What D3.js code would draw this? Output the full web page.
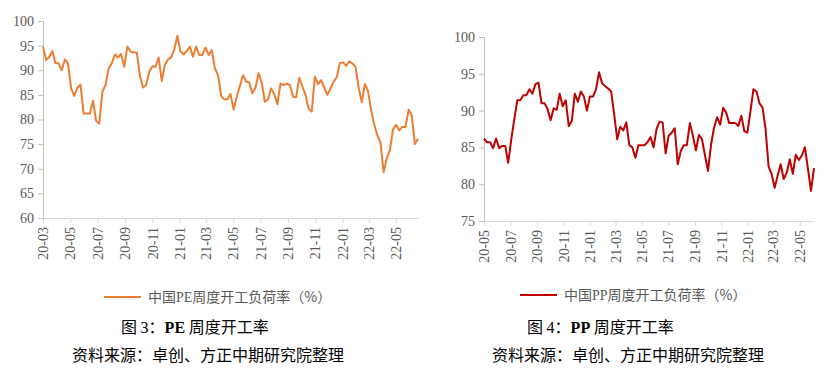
<!DOCTYPE html>
<html><head><meta charset="utf-8">
<script src="https://cdn.jsdelivr.net/npm/d3@7"></script>
<style>
html,body{margin:0;padding:0;background:#fff;}
svg{display:block;}
</style></head>
<body>
<svg id="c" width="826" height="371"></svg>
<script>
// ---------- DATA ----------
const peStart = "2020-03-01";   // first weekly observation
const peValues = [
94.8, 92.1, 92.7, 93.9, 91.4, 91.4, 90.0, 92.2, 91.4, 86.3,
84.8, 86.4, 87.1, 81.2, 81.2, 81.2, 83.8, 79.7, 79.2, 85.6,
87.0, 90.4, 91.4, 93.2, 92.6, 93.3, 90.7, 94.8, 93.8, 93.6,
93.6, 89.0, 86.5, 87.0, 89.7, 90.8, 90.7, 92.6, 87.8, 91.1,
92.2, 92.6, 94.2, 97.0, 93.8, 93.2, 93.9, 94.8, 92.8, 94.8,
93.1, 93.1, 94.6, 93.1, 94.1, 90.4, 89.0, 84.8, 84.1, 84.1,
85.2, 82.0, 84.6, 86.8, 89.0, 87.7, 87.5, 85.3, 86.5, 89.4,
87.5, 83.6, 84.1, 86.3, 85.2, 83.1, 87.3, 87.0, 87.3, 87.0,
84.6, 84.5, 88.5, 86.7, 85.0, 82.2, 81.6, 88.7, 87.2, 88.0,
86.5, 85.0, 86.3, 87.7, 88.6, 91.5, 91.6, 90.9, 91.8, 91.4,
90.7, 86.5, 83.5, 87.2, 85.8, 81.9, 78.9, 76.8, 75.3, 69.3,
72.1, 73.8, 78.0, 78.9, 77.8, 78.5, 78.5, 82.0, 80.9, 75.0,
76.1];
const peTickLabels = ["20-03","20-05","20-07","20-09","20-11","21-01","21-03","21-05","21-07","21-09","21-11","22-01","22-03","22-05"];
const peYTicks = [60,65,70,75,80,85,90,95,100];

const ppStart = "2020-05-01";
const ppValues = [
86.2, 85.7, 85.7, 84.9, 86.2, 84.9, 85.2, 85.2, 82.9, 86.1,
88.8, 91.4, 91.4, 92.1, 92.1, 92.9, 92.3, 93.6, 93.8, 91.0,
91.0, 90.2, 88.7, 90.3, 90.1, 92.3, 90.6, 91.4, 87.9, 88.6,
92.3, 91.2, 92.6, 91.9, 90.0, 91.9, 91.9, 92.9, 95.2, 93.7,
93.3, 93.0, 92.6, 89.5, 86.1, 87.8, 87.3, 88.4, 85.3, 85.0,
83.6, 85.3, 85.3, 85.3, 85.7, 86.4, 85.0, 87.5, 88.5, 88.4,
84.2, 86.6, 87.0, 87.6, 82.7, 84.5, 85.3, 85.3, 88.3, 86.6,
84.6, 86.7, 86.1, 83.9, 81.8, 85.4, 87.7, 89.1, 88.1, 90.4,
89.7, 88.3, 88.3, 88.3, 87.9, 89.3, 87.2, 87.0, 89.9, 92.9,
92.6, 91.0, 90.4, 87.5, 82.4, 81.4, 79.5, 81.2, 82.7, 80.7,
81.6, 83.4, 81.4, 84.0, 83.3, 83.9, 85.0, 82.1, 79.1, 82.2];
const ppTickLabels = ["20-05","20-07","20-09","20-11","21-01","21-03","21-05","21-07","21-09","21-11","22-01","22-03","22-05"];
const ppYTicks = [75,80,85,90,95,100];

const peLegend = ["中国", "PE", "周度开工负荷率（%）"];
const ppLegend = ["中国", "PP", "周度开工负荷率（%）"];
const peCaption = ["图 ", "3", "：", "PE", " 周度开工率"];
const ppCaption = ["图 ", "4", "：", "PP", " 周度开工率"];
const sourceText = "资料来源：卓创、方正中期研究院整理";

// ---------- DRAW ----------
const svg = d3.select("#c");
const parseYM = d3.timeParse("%y-%m");
const parseDay = d3.timeParse("%Y-%m-%d");
const LATIN = "'Liberation Serif','Times New Roman',serif";
const CJK = "'Noto Sans CJK SC','Noto Sans CJK JP',sans-serif";

function chart(o) {
  const start = parseDay(o.start);
  const data = o.values.map((v, i) => ({ d: d3.timeDay.offset(start, 7 * i), v }));
  const x = d3.scaleTime().domain(d3.extent(data, d => d.d)).range([o.x0, o.x1]);
  const y = d3.scaleLinear().domain(o.yDomain).range([o.y1, o.y0]);
  const g = svg.append("g");

  // y axis
  const ya = g.append("g").attr("transform", `translate(${o.x0},0)`)
    .call(d3.axisLeft(y).tickValues(o.yTicks).tickSize(5).tickPadding(4).tickFormat(d3.format("d")));
  ya.select(".domain").attr("stroke", "#bfbfbf");
  ya.selectAll(".tick line").attr("stroke", "#bfbfbf");
  ya.selectAll("text").attr("fill", "#595959").style("font-family", LATIN).style("font-size", "14px");

  // x axis
  const xa = g.append("g").attr("transform", `translate(0,${o.y1})`)
    .call(d3.axisBottom(x).tickValues(o.tickLabels.map(parseYM)).tickSize(5).tickSizeOuter(0)
      .tickFormat(d3.timeFormat("%y-%m")));
  xa.select(".domain").attr("stroke", "#d9d9d9");
  xa.selectAll(".tick line").attr("stroke", "#d9d9d9");
  xa.selectAll("text").attr("fill", "#595959").style("font-family", LATIN).style("font-size", "14px")
    .attr("transform", "rotate(-90)").attr("text-anchor", "end")
    .attr("x", -9).attr("y", 0).attr("dy", "0.33em");

  // line
  g.append("path").datum(data)
    .attr("fill", "none").attr("stroke", o.color).attr("stroke-width", 2)
    .attr("stroke-linejoin", "round")
    .attr("d", d3.line().x(d => x(d.d)).y(d => y(d.v)));

  // legend
  g.append("line").attr("x1", o.legX).attr("x2", o.legX + 37)
    .attr("y1", o.legY - 5).attr("y2", o.legY - 5)
    .attr("stroke", o.color).attr("stroke-width", 2);
  const lt = g.append("text").attr("x", o.legX + 44).attr("y", o.legY)
    .attr("fill", "#595959").style("font-size", "14px");
  lt.append("tspan").style("font-family", CJK).text(o.legend[0]);
  lt.append("tspan").style("font-family", LATIN).text(o.legend[1]);
  lt.append("tspan").style("font-family", CJK).text(o.legend[2]);

  // caption
  const ct = g.append("text").attr("x", o.capX).attr("y", 333)
    .attr("fill", "#000").style("font-size", "16px");
  ct.append("tspan").style("font-family", CJK).text(o.caption[0]);
  ct.append("tspan").style("font-family", LATIN).text(o.caption[1]);
  ct.append("tspan").style("font-family", CJK).text(o.caption[2]);
  ct.append("tspan").style("font-family", LATIN).style("font-weight", "bold").text(o.caption[3]);
  ct.append("tspan").style("font-family", CJK).text(o.caption[4]);

  g.append("text").attr("x", o.srcX).attr("y", 361)
    .attr("fill", "#000").style("font-size", "16px").style("font-family", CJK)
    .text(sourceText);
}

chart({ start: peStart, values: peValues, tickLabels: peTickLabels, yTicks: peYTicks,
  yDomain: [60, 100], x0: 43, x1: 418, y0: 21, y1: 218, color: "#ED7D31",
  legend: peLegend, legX: 104, legY: 302, caption: peCaption, capX: 121, srcX: 72 });

chart({ start: ppStart, values: ppValues, tickLabels: ppTickLabels, yTicks: ppYTicks,
  yDomain: [75, 100], x0: 484, x1: 814, y0: 37, y1: 221, color: "#C00000",
  legend: ppLegend, legX: 520, legY: 300, caption: ppCaption, capX: 527, srcX: 492 });
</script>
</body></html>
